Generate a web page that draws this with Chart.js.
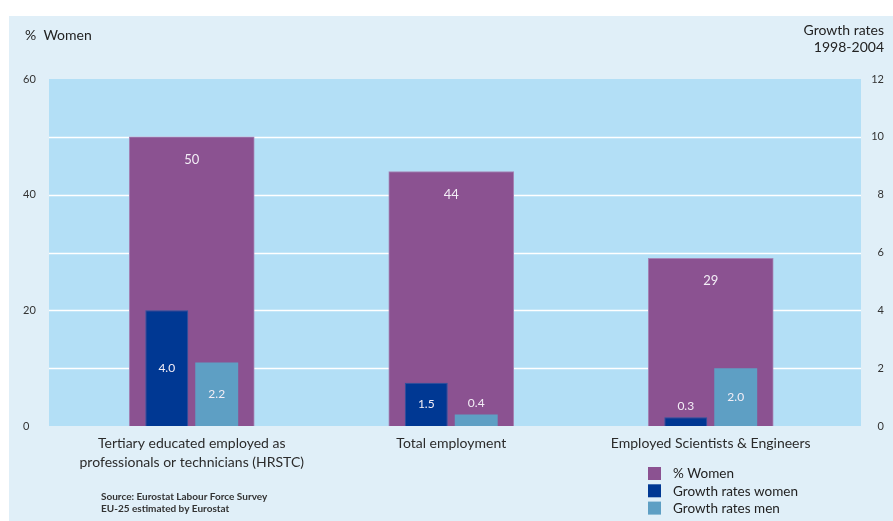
<!DOCTYPE html>
<html>
<head>
<meta charset="utf-8">
<script src="https://cdn.jsdelivr.net/npm/chart.js@4/dist/chart.umd.min.js"></script>
<style>
  html, body { margin: 0; padding: 0; background: #fff; }
  #wrap { width: 893px; height: 521px; position: relative; }
</style>
</head>
<body>
<div id="wrap"><canvas id="chart"></canvas></div>
<script>
// data
const categories = [
  ["Tertiary educated employed as", "professionals or technicians (HRSTC)"],
  "Total employment",
  "Employed Scientists & Engineers"
];
const womenShare = [50, 44, 29];
const growthWomen = [4.0, 1.5, 0.3];
const growthMen = [2.2, 0.4, 2.0];
const seriesNames = ["% Women", "Growth rates women", "Growth rates men"];
const leftTicks = { min: 0, max: 60, step: 20 };
const rightTicks = { min: 0, max: 12, step: 2 };

const FONT = "Lato, 'Open Sans', sans-serif";
const colors = ["#8b5291", "#003893", "#5e9fc4"];

// background, plot area and the white grid lines
const backdrop = {
  id: "backdrop",
  beforeDraw(chart) {
    const { ctx, chartArea: a, width, height } = chart;
    ctx.save();
    ctx.fillStyle = "#ffffff";
    ctx.fillRect(0, 0, width, height);
    ctx.fillStyle = "#e0eff8";
    ctx.fillRect(9, 16, width - 9, height - 16);
    const bgLeft = a.left - 13, bgRight = a.right + 20.5;
    ctx.fillStyle = "#b3dff6";
    ctx.fillRect(bgLeft, a.top, bgRight - bgLeft, a.bottom - a.top);
    const y1 = chart.scales.y1;
    ctx.strokeStyle = "#ffffff";
    ctx.lineWidth = 1.3;
    y1.ticks.forEach(t => {
      if (t.value <= y1.min || t.value >= y1.max) return;
      const py = Math.round(y1.getPixelForValue(t.value)) + 0.5;
      ctx.beginPath();
      ctx.moveTo(bgLeft, py);
      ctx.lineTo(bgRight, py);
      ctx.stroke();
    });
    ctx.restore();
  }
};

// numbers written inside the bars
const valueLabels = {
  id: "valueLabels",
  afterDatasetsDraw(chart) {
    const { ctx } = chart;
    ctx.save();
    ctx.fillStyle = "#f3eef6";
    ctx.textAlign = "center";
    ctx.textBaseline = "middle";
    chart.data.datasets.forEach((ds, di) => {
      const meta = chart.getDatasetMeta(di);
      meta.data.forEach((bar, i) => {
        const v = ds.data[i];
        if (di === 0) {
          ctx.font = "13px " + FONT;
          ctx.fillText(String(v), bar.x, bar.y + 23);
        } else {
          ctx.font = "12px " + FONT;
          const h = bar.base - bar.y;
          const y = h > 40 ? bar.y + h / 2 : bar.y - 11;
          ctx.fillText(v.toFixed(1), bar.x, y);
        }
      });
    });
    ctx.restore();
  }
};

// axis titles, source note and legend
const notes = {
  id: "notes",
  afterDraw(chart) {
    const { ctx } = chart;
    ctx.save();
    ctx.fillStyle = "#222";
    ctx.textBaseline = "middle";
    ctx.font = "14px " + FONT;
    ctx.textAlign = "left";
    ctx.fillText("%  Women", 25, 35);
    ctx.textAlign = "right";
    ctx.fillText("Growth rates", 884, 30);
    ctx.fillText("1998-2004", 884, 47);

    ctx.textAlign = "left";
    ctx.font = "bold 10px " + FONT;
    ctx.fillStyle = "#333";
    ctx.fillText("Source: Eurostat Labour Force Survey", 101, 497);
    ctx.fillText("EU-25 estimated by Eurostat", 101, 509);

    ctx.font = "13.5px " + FONT;
    seriesNames.forEach((name, i) => {
      const top = 467 + i * 17.3;
      ctx.fillStyle = colors[i];
      ctx.fillRect(648, top, 13, 13);
      ctx.fillStyle = "#222";
      ctx.fillText(name, 673, top + 7);
    });
    ctx.restore();
  }
};

new Chart(document.getElementById("chart"), {
  type: "bar",
  data: {
    labels: categories,
    datasets: [
      {
        label: seriesNames[0],
        data: womenShare,
        yAxisID: "y",
        backgroundColor: colors[0],
        borderColor: "#a587b6",
        borderWidth: 1,
        grouped: false,
        barThickness: 125,
        order: 2
      },
      {
        label: seriesNames[1],
        data: growthWomen,
        yAxisID: "y1",
        backgroundColor: colors[1],
        borderColor: "#2a55a0",
        borderWidth: 1,
        categoryPercentage: 0.385,
        barPercentage: 0.86,
        order: 1
      },
      {
        label: seriesNames[2],
        data: growthMen,
        yAxisID: "y1",
        backgroundColor: colors[2],
        borderWidth: 0,
        categoryPercentage: 0.385,
        barPercentage: 0.86,
        order: 1
      }
    ]
  },
  options: {
    responsive: true,
    maintainAspectRatio: false,
    animation: false,
    layout: { padding: { left: 23, right: 9, top: 79, bottom: 0 } },
    plugins: {
      legend: { display: false },
      tooltip: { enabled: false }
    },
    scales: {
      x: {
        grid: { display: false },
        border: { display: false },
        ticks: {
          color: "#2b2b2b",
          font: { family: FONT, size: 14, lineHeight: 1.35 },
          padding: 0,
          maxRotation: 0,
          autoSkip: false
        },
        afterFit(s) { s.height = 95; }
      },
      y: {
        position: "left",
        min: leftTicks.min,
        max: leftTicks.max,
        grid: { display: false },
        border: { display: false },
        ticks: {
          stepSize: leftTicks.step,
          crossAlign: "far",
          color: "#333",
          font: { family: FONT, size: 11 }
        },
        afterFit(s) { s.width = 39; }
      },
      y1: {
        position: "right",
        min: rightTicks.min,
        max: rightTicks.max,
        grid: { display: false },
        border: { display: false },
        ticks: {
          stepSize: rightTicks.step,
          crossAlign: "far",
          color: "#333",
          font: { family: FONT, size: 11 }
        },
        afterFit(s) { s.width = 43.5; }
      }
    }
  },
  plugins: [backdrop, valueLabels, notes]
});
</script>
</body>
</html>
